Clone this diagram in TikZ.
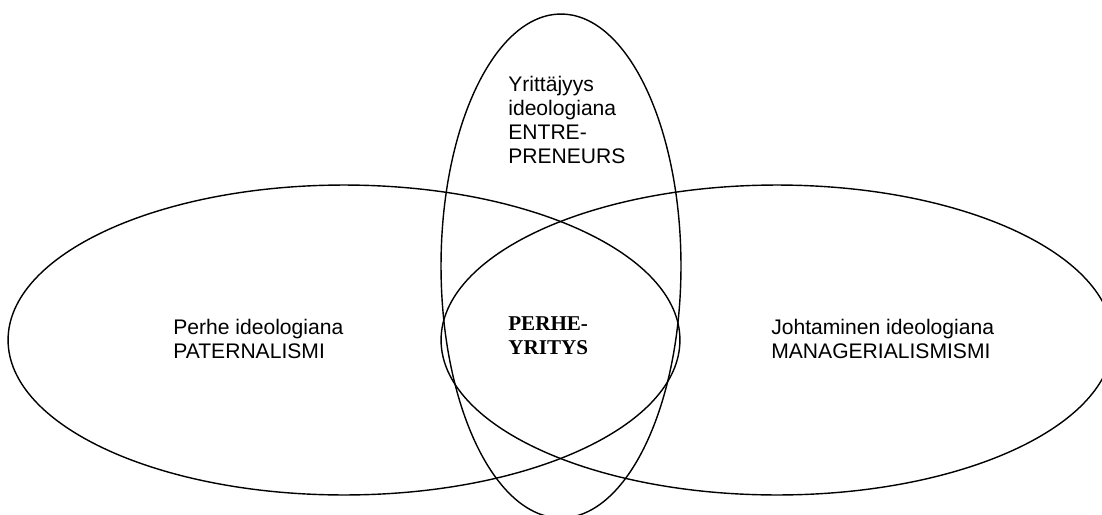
\documentclass[tikz,border=0pt]{standalone}
\usepackage{fontspec}
\setmainfont{Liberation Sans}
\newfontfamily\timesfont{Liberation Serif}
\usetikzlibrary{shapes.geometric}

\begin{document}
\begin{tikzpicture}[
    x=0.02cm, y=-0.02cm,
    font=\fontsize{12}{13.5}\selectfont,
    ideology/.style={
        ellipse, draw=black, line width=0.8pt,
        inner sep=0pt, outer sep=0pt,
    },
    ideotext/.style={
        anchor=west, align=left, inner sep=0pt,
    },
    coretext/.style={
        anchor=west, align=left, inner sep=0pt,
        font=\timesfont\bfseries\fontsize{12}{13.5}\selectfont,
    },
]

\clip (0,0) rectangle (1102,514);

% =================================================
% Ideology ellipses
% =================================================
\node[ideology, minimum width=13.44cm, minimum height=6.2cm] (family) at (344,340) {};
\node[ideology, minimum width=13.44cm, minimum height=6.2cm] (manage) at (777,340) {};
\node[ideology, minimum width=4.8cm, minimum height=10.08cm] (entre) at (561,266) {};

% =================================================
% Texts
% =================================================
\node[ideotext] (familytxt) at (173,339) {Perhe ideologiana\\PATERNALISMI};
\node[ideotext] (managetxt) at (771,339) {Johtaminen ideologiana\\MANAGERIALISMISMI};
\node[ideotext] (entretxt)  at (508,120) {Yrittäjyys\\ideologiana\\ENTRE-\\PRENEURS};
\node[coretext] (coretxt)   at (508,336) {PERHE-\\YRITYS};

\end{tikzpicture}
\end{document}
